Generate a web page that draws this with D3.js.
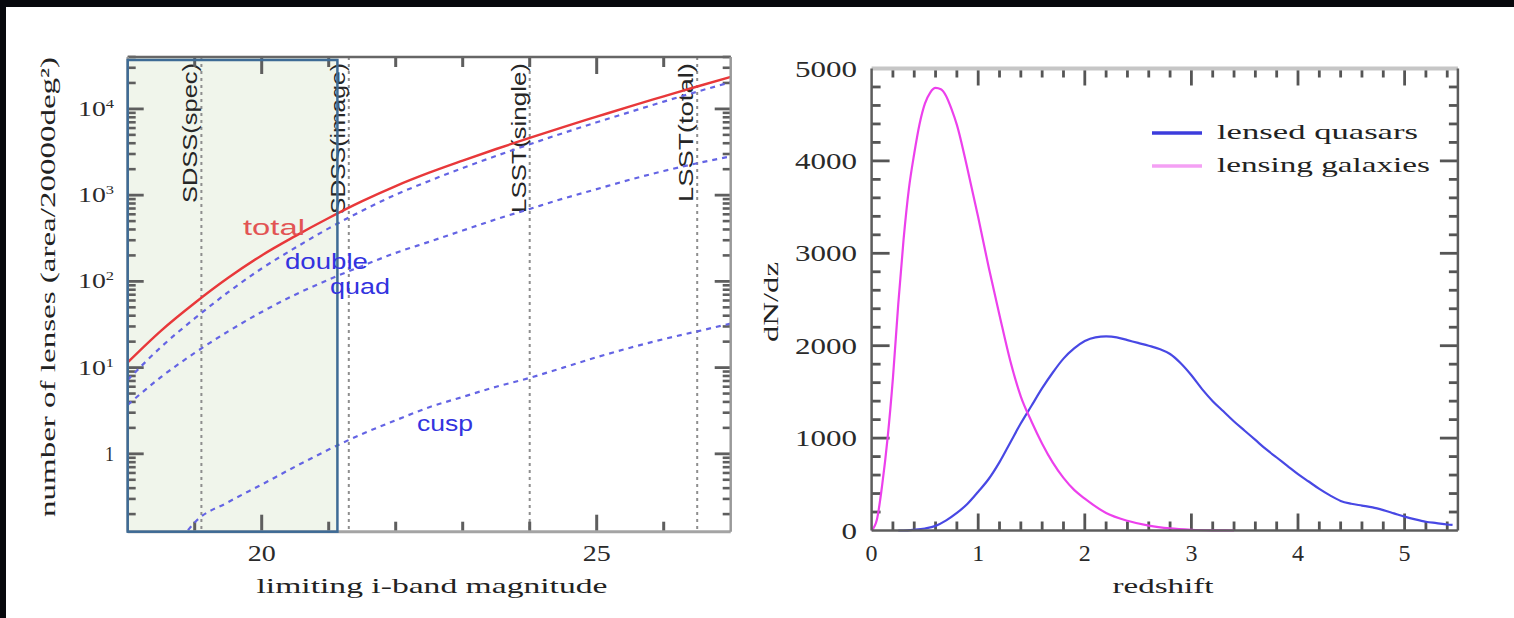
<!DOCTYPE html>
<html><head><meta charset="utf-8">
<script src="https://cdn.jsdelivr.net/npm/d3@7"></script>
<style>body{margin:0;background:#07080d;} svg{display:block}</style>
</head><body>
<svg id="c" width="1514" height="618"></svg>
<script>
// ---------- Left panel data (number of lenses vs limiting i-band magnitude) ----------
const magGrid = [18,18.5,19,19.5,20,20.5,21,21.5,22,22.5,23,23.5,24,24.5,25,25.5,26,26.5,27];
const totalLenses  = [11.5,26.9,56.2,110,200,335,543,851,1274,1820,2512,3428,4624,6166,8128,10715,13964,18197,23442];
const doubleLenses = [7.2,17.4,37.2,75,141,245,412,661,1012,1462,2065,2851,3890,5248,7000,9226,12162,15849,20417];
const quadLenses   = [3.7,7.8,14.8,26.3,44.2,70,105,151,214,288,389,525,692,912,1175,1514,1905,2344,2818];
const cuspMags     = [18.9,19,19.5,20,20.5,21,21.5,22,22.5,23,23.5,24,24.5,25,25.5,26,26.5,27];
const cuspLenses   = [0.13,0.16,0.275,0.44,0.71,1.12,1.7,2.45,3.47,4.57,6.0,7.6,10.0,13.2,17.0,21.4,26.3,32.4];
const surveyNames  = ["SDSS(spec)","SDSS(image)","LSST(single)","LSST(total)"];
const surveyLimits = [19.1,21.3,24.0,26.5];
const highlightRange = [18,21.13];
const magLabelTicks = [20,25];
const lensLabelTicks = [1,10,100,1000,10000];
const curveNames = ["total","double","quad","cusp"];

// ---------- Right panel data (dN/dz vs redshift) ----------
const zGal = [0,0.05,0.1,0.15,0.2,0.25,0.3,0.35,0.4,0.45,0.5,0.55,0.6,0.65,0.7,0.75,0.8,0.9,1.0,1.1,1.2,1.3,1.4,1.5,1.6,1.7,1.8,1.9,2.0,2.2,2.4,2.6,2.8,3.0,3.2,3.4];
const galaxyCounts = [0,120,500,1000,1650,2450,3150,3700,4080,4400,4620,4740,4790,4775,4700,4560,4390,3910,3390,2840,2330,1840,1450,1180,940,735,570,440,345,190,105,52,22,8,2,0];
const zQso = [0.25,0.3,0.4,0.5,0.6,0.7,0.8,0.9,1.0,1.1,1.2,1.3,1.4,1.5,1.6,1.7,1.8,1.9,2.0,2.1,2.2,2.3,2.4,2.5,2.6,2.7,2.8,2.9,3.0,3.1,3.2,3.3,3.4,3.5,3.6,3.7,3.8,3.9,4.0,4.1,4.2,4.3,4.4,4.5,4.6,4.7,4.8,4.9,5.0,5.1,5.2,5.3,5.4,5.45];
const quasarCounts = [0,0,8,22,50,110,190,290,420,560,740,950,1160,1350,1540,1710,1860,1970,2050,2090,2100,2090,2060,2030,2000,1965,1910,1810,1680,1530,1400,1290,1180,1080,980,880,790,700,610,530,450,380,320,290,270,250,220,185,150,120,95,80,65,60];
const zLabelTicks = [0,1,2,3,4,5];
const countLabelTicks = [0,1000,2000,3000,4000,5000];
const legendNames = ["lensed quasars","lensing galaxies"];

const SERIF = "'Liberation Serif', 'DejaVu Serif', serif";
const SANS = "'Liberation Sans', Arial, sans-serif";

const svg = d3.select("#c");
svg.append("rect").attr("width",1514).attr("height",618).attr("fill","#07080d");
svg.append("rect").attr("x",6).attr("y",7).attr("width",1508).attr("height",611).attr("fill","#ffffff");

// tick helpers (inward ticks drawn from scales)
function hTicks(g, scale, values, y, len, color, w){
  g.append("g").selectAll("line").data(values).join("line")
    .attr("x1",d=>scale(d)).attr("x2",d=>scale(d)).attr("y1",y).attr("y2",y+len)
    .attr("stroke",color).attr("stroke-width",w);
}
function vTicks(g, scale, values, x, len, color, w){
  g.append("g").selectAll("line").data(values).join("line")
    .attr("y1",d=>scale(d)).attr("y2",d=>scale(d)).attr("x1",x).attr("x2",x+len)
    .attr("stroke",color).attr("stroke-width",w);
}

// ================= LEFT PANEL =================
const xL = d3.scaleLinear().domain([18,27]).range([127.7,730.7]);
const yL = d3.scaleLog().domain([0.125,40000]).range([531.7,57]);
const gL = svg.append("g");
const [lx0,lx1] = xL.range(), [ly1,ly0] = yL.range();

gL.append("rect").attr("x",xL(highlightRange[0])).attr("y",ly0)
  .attr("width",xL(highlightRange[1])-xL(highlightRange[0])).attr("height",ly1-ly0)
  .attr("fill","#f0f5eb");

svg.append("clipPath").attr("id","clipL").append("rect")
  .attr("x",lx0).attr("y",ly0).attr("width",lx1-lx0).attr("height",ly1-ly0);

// survey limit lines
gL.append("g").selectAll("line").data(surveyLimits).join("line")
  .attr("x1",d=>xL(d)).attr("x2",d=>xL(d)).attr("y1",ly0).attr("y2",ly1)
  .attr("stroke","#8e8e8e").attr("stroke-width",2).attr("stroke-dasharray","3,4");

gL.append("g").selectAll("text").data(surveyNames).join("text")
  .attr("transform",(d,i)=>`translate(${xL(surveyLimits[i])-4},${[203,214,213,202][i]}) rotate(-90)`)
  .attr("font-family",SANS).attr("font-size",21).attr("fill","#262626")
  .attr("textLength",(d,i)=>[140,151,150,139][i]).attr("lengthAdjust","spacingAndGlyphs")
  .text(d=>d);

// ticks
const logTicks = yL.ticks().filter(v=>v>=0.125 && v<=40000);
const isMajor = v => Math.abs(Math.log10(v)-Math.round(Math.log10(v)))<1e-9;
const minorLog = logTicks.filter(v=>!isMajor(v));
const majorLog = logTicks.filter(isMajor);
const magAll = xL.ticks(9).filter(v=>v>18 && v<27);
const magMinor = magAll.filter(v=>!magLabelTicks.includes(v));
const tcL = "#5e5e5e";
hTicks(gL,xL,magMinor,ly1,-10,tcL,3);
hTicks(gL,xL,magLabelTicks,ly1,-17,tcL,3);
hTicks(gL,xL,magMinor,ly0,10,tcL,3);
hTicks(gL,xL,magLabelTicks,ly0,17,tcL,3);
vTicks(gL,yL,minorLog,lx0,8,tcL,2.6);
vTicks(gL,yL,majorLog,lx0,16,tcL,2.8);
vTicks(gL,yL,minorLog,lx1,-8,tcL,2.6);
vTicks(gL,yL,majorLog,lx1,-16,tcL,2.8);

// curves
const lineL = d3.line().x(d=>xL(d[0])).y(d=>yL(d[1])).curve(d3.curveMonotoneX);
const cg = gL.append("g").attr("clip-path","url(#clipL)");
[[magGrid,doubleLenses],[magGrid,quadLenses],[cuspMags,cuspLenses]].forEach(([m,v])=>{
  cg.append("path").attr("d",lineL(d3.zip(m,v))).attr("fill","none")
    .attr("stroke","#6464e4").attr("stroke-width",2.2).attr("stroke-dasharray","5,5");
});
cg.append("path").attr("d",lineL(d3.zip(magGrid,totalLenses))).attr("fill","none")
  .attr("stroke","#e8383a").attr("stroke-width",2.4);

// frame
gL.append("line").attr("x1",lx0).attr("x2",lx1).attr("y1",ly0).attr("y2",ly0).attr("stroke","#666").attr("stroke-width",2.5);
gL.append("line").attr("x1",lx0).attr("x2",lx1).attr("y1",ly1).attr("y2",ly1).attr("stroke","#a4a4a4").attr("stroke-width",3);
gL.append("line").attr("x1",lx1).attr("x2",lx1).attr("y1",ly0).attr("y2",ly1).attr("stroke","#999").attr("stroke-width",2.5);
gL.append("line").attr("x1",lx0).attr("x2",lx0).attr("y1",ly0).attr("y2",ly1).attr("stroke","#999").attr("stroke-width",2.5);

// highlight box border
gL.append("rect").attr("x",xL(highlightRange[0])).attr("y",60)
  .attr("width",xL(highlightRange[1])-xL(highlightRange[0])).attr("height",ly1-60)
  .attr("fill","none").attr("stroke","#3e6b95").attr("stroke-width",2.5);

// curve labels
const curveLabelPos = [[243,235,62,"#e25454"],[285,269,83,"#3333df"],[330,294,60,"#3333df"],[417,431,56,"#3333df"]];
gL.append("g").selectAll("text").data(curveNames).join("text")
  .attr("x",(d,i)=>curveLabelPos[i][0]).attr("y",(d,i)=>curveLabelPos[i][1])
  .attr("textLength",(d,i)=>curveLabelPos[i][2]).attr("lengthAdjust","spacingAndGlyphs")
  .attr("fill",(d,i)=>curveLabelPos[i][3])
  .attr("font-family",SANS).attr("font-size",22).text(d=>d);

// tick labels
gL.append("g").selectAll("text").data(magLabelTicks).join("text")
  .attr("x",d=>xL(d)).attr("y",561).attr("text-anchor","middle")
  .attr("font-family",SERIF).attr("font-size",23).attr("fill","#2a2a2a")
  .attr("textLength",28).attr("lengthAdjust","spacingAndGlyphs")
  .text(d=>d);
lensLabelTicks.forEach(v=>{
  const t = gL.append("text").attr("x",114).attr("y",yL(v)+7).attr("text-anchor","end")
    .attr("font-family",SERIF).attr("font-size",22).attr("fill","#2a2a2a");
  if(v===1){ t.attr("textLength",9).attr("lengthAdjust","spacingAndGlyphs").text("1"); }
  else {
    t.attr("textLength",36).attr("lengthAdjust","spacingAndGlyphs");
    t.append("tspan").text("10");
    t.append("tspan").attr("dy",-8).attr("font-size",13).text(String(Math.round(Math.log10(v))));
  }
});
gL.append("text").attr("x",432).attr("y",593).attr("text-anchor","middle")
  .attr("font-family",SERIF).attr("font-size",22).attr("fill","#222")
  .attr("textLength",351).attr("lengthAdjust","spacingAndGlyphs")
  .text("limiting i-band magnitude");
gL.append("text").attr("transform","translate(55,287) rotate(-90)").attr("text-anchor","middle")
  .attr("font-family",SERIF).attr("font-size",22).attr("fill","#222")
  .attr("textLength",460).attr("lengthAdjust","spacingAndGlyphs")
  .text("number of lenses (area/20000deg²)");

// ================= RIGHT PANEL =================
const xR = d3.scaleLinear().domain([0,5.5]).range([871.6,1457.9]);
const yR = d3.scaleLinear().domain([0,5000]).range([530.5,68.5]);
const gR = svg.append("g");
const [rx0,rx1] = xR.range(), [ry1,ry0] = yR.range();

const zMinor = xR.ticks(30).filter(v=>!zLabelTicks.includes(v) && v>0 && v<5.5);
const cMinor = yR.ticks(25).filter(v=>!countLabelTicks.includes(v) && v>0 && v<5000);
const tcR = "#555";
hTicks(gR,xR,zMinor,ry1,-9,tcR,2.8);
hTicks(gR,xR,zLabelTicks.filter(v=>v>0),ry1,-17,tcR,2.8);
hTicks(gR,xR,zMinor,ry0,9,tcR,2.8);
hTicks(gR,xR,zLabelTicks.filter(v=>v>0),ry0,17,tcR,2.8);
vTicks(gR,yR,cMinor,rx0,9,tcR,2.8);
vTicks(gR,yR,countLabelTicks.filter(v=>v>0&&v<5000),rx0,18,tcR,2.8);
vTicks(gR,yR,cMinor,rx1,-9,tcR,2.8);
vTicks(gR,yR,countLabelTicks.filter(v=>v>0&&v<5000),rx1,-18,tcR,2.8);

const lineR = d3.line().x(d=>xR(d[0])).y(d=>yR(d[1])).curve(d3.curveMonotoneX);
gR.append("path").attr("d",lineR(d3.zip(zQso,quasarCounts))).attr("fill","none")
  .attr("stroke","#4848e4").attr("stroke-width",2.2);
gR.append("path").attr("d",lineR(d3.zip(zGal,galaxyCounts))).attr("fill","none")
  .attr("stroke","#ec40ec").attr("stroke-width",2.2);

gR.append("line").attr("x1",rx0).attr("x2",rx1).attr("y1",ry0).attr("y2",ry0).attr("stroke","#c6c6c6").attr("stroke-width",4);
gR.append("line").attr("x1",rx0).attr("x2",rx1).attr("y1",ry1).attr("y2",ry1).attr("stroke","#5c5c5c").attr("stroke-width",2.5);
gR.append("line").attr("x1",rx0).attr("x2",rx0).attr("y1",ry0).attr("y2",ry1).attr("stroke","#5c5c5c").attr("stroke-width",2.5);
gR.append("line").attr("x1",rx1).attr("x2",rx1).attr("y1",ry0).attr("y2",ry1).attr("stroke","#5c5c5c").attr("stroke-width",2.5);

gR.append("g").selectAll("text").data(zLabelTicks).join("text")
  .attr("x",d=>xR(d)).attr("y",561).attr("text-anchor","middle")
  .attr("font-family",SERIF).attr("font-size",24).attr("fill","#2a2a2a").text(d=>d);
gR.append("g").selectAll("text").data(countLabelTicks).join("text")
  .attr("x",857).attr("y",d=>yR(d)+8).attr("text-anchor","end")
  .attr("font-family",SERIF).attr("font-size",23).attr("fill","#2a2a2a")
  .attr("textLength",d=>String(d).length*15.5).attr("lengthAdjust","spacingAndGlyphs")
  .text(d=>d);
gR.append("text").attr("x",1163).attr("y",593).attr("text-anchor","middle")
  .attr("font-family",SERIF).attr("font-size",22).attr("fill","#222")
  .attr("textLength",101).attr("lengthAdjust","spacingAndGlyphs").text("redshift");
gR.append("text").attr("transform","translate(778,302) rotate(-90)").attr("text-anchor","middle")
  .attr("font-family",SERIF).attr("font-size",22).attr("fill","#222")
  .attr("textLength",80).attr("lengthAdjust","spacingAndGlyphs").text("dN/dz");

// legend
const legendColors = ["#3c3cdc","#f4a0f4"];
const legendY = [133,166];
gR.append("g").selectAll("line").data(legendNames).join("line")
  .attr("x1",1152).attr("x2",1202).attr("y1",(d,i)=>legendY[i]).attr("y2",(d,i)=>legendY[i])
  .attr("stroke",(d,i)=>legendColors[i]).attr("stroke-width",3.5);
gR.append("g").selectAll("text").data(legendNames).join("text")
  .attr("x",1217).attr("y",(d,i)=>legendY[i]+6)
  .attr("font-family",SERIF).attr("font-size",22).attr("fill","#222")
  .attr("textLength",(d,i)=>[201,213][i]).attr("lengthAdjust","spacingAndGlyphs")
  .text(d=>d);
</script>
</body></html>
